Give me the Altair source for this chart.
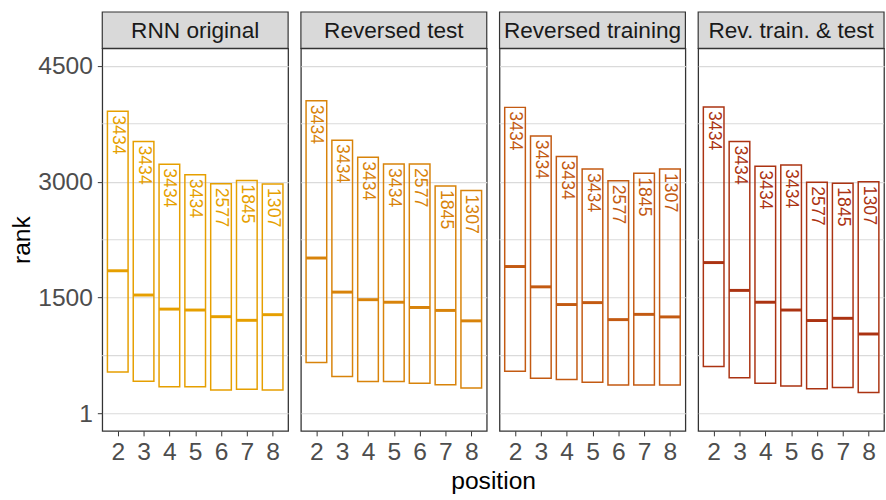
import altair as alt
import pandas as pd

# Panels (training / test conditions) and prefix positions
panels = ["RNN original", "Reversed test", "Reversed training", "Rev. train. & test"]
positions = [2, 3, 4, 5, 6, 7, 8]
counts = [3434, 3434, 3434, 3434, 2577, 1845, 1307]
colors = ["#E69F00", "#D8830A", "#C35A12", "#AB3312"]

# Rank ranges (lower / upper) and medians per panel, positions 2..8
upper = {
    "RNN original":       [3911, 3521, 3225, 3089, 2974, 3017, 2970],
    "Reversed test":      [4047, 3538, 3317, 3228, 3228, 2945, 2886],
    "Reversed training":  [3962, 3593, 3326, 3165, 3012, 3110, 3165],
    "Rev. train. & test": [3966, 3521, 3199, 3216, 2992, 2979, 3000],
}
lower = {
    "RNN original":       [539, 419, 348, 348, 305, 314, 305],
    "Reversed test":      [661, 479, 416, 416, 394, 373, 331],
    "Reversed training":  [547, 458, 441, 407, 369, 369, 369],
    "Rev. train. & test": [610, 463, 394, 356, 323, 339, 272],
}
median = {
    "RNN original":       [1848, 1534, 1352, 1340, 1254, 1207, 1280],
    "Reversed test":      [2013, 1572, 1474, 1441, 1373, 1335, 1200],
    "Reversed training":  [1903, 1640, 1411, 1436, 1216, 1284, 1251],
    "Rev. train. & test": [1954, 1594, 1441, 1340, 1204, 1233, 1030],
}

major_ticks = [1, 1500, 3000, 4500]
minor_ticks = [750, 2250, 3750]

FONT = "Liberation Sans"
TICK_FS = 25
TITLE_FS = 25
STRIP_FS = 23
PANEL_W = 189
PANEL_H = 389
STRIP_H = 37
GRID = "#DADADA"
HALF = 0.4

x_scale = alt.Scale(domain=[1.4, 8.6], nice=False, zero=False)
y_scale = alt.Scale(domain=[-224, 4725], nice=False, zero=False)

x_axis = alt.Axis(values=positions, format="d", title=None, grid=False,
                  domain=False, ticks=True, tickSize=5, tickColor="#333333",
                  labelFontSize=TICK_FS, labelColor="#4D4D4D", labelFont=FONT,
                  labelPadding=4, labelOverlap=False, labelFlush=False)


def panel_chart(i, name):
    color = colors[i]
    df = pd.DataFrame({
        "position": positions,
        "x0": [p - HALF for p in positions],
        "x1": [p + HALF for p in positions],
        "lower": lower[name],
        "upper": upper[name],
        "median": median[name],
        "n": counts,
    })
    if i == 0:
        y_axis = alt.Axis(values=major_ticks, format="d", title="rank", grid=True,
                          gridColor=GRID, gridWidth=1.1, domain=False,
                          tickSize=5, tickColor="#333333", labelFontSize=TICK_FS,
                          labelColor="#4D4D4D", labelFont=FONT, labelPadding=5,
                          labelOverlap=False, labelFlush=False,
                          titleFontSize=TITLE_FS, titleFont=FONT, titleColor="black",
                          titleFontWeight="normal", titlePadding=3)
    else:
        y_axis = alt.Axis(values=major_ticks, title=None, grid=True,
                          gridColor=GRID, gridWidth=1.1, domain=False,
                          ticks=False, labels=False)

    base = alt.Chart(df)

    # light minor grid lines halfway between the labelled ranks
    minor = alt.Chart(pd.DataFrame({"v": minor_ticks})).mark_rule(
        color=GRID, strokeWidth=1.1
    ).encode(y=alt.Y("v:Q", scale=y_scale, axis=y_axis))

    boxes = base.mark_rect(fillOpacity=0, stroke=color, strokeWidth=1.5).encode(
        x=alt.X("x0:Q", scale=x_scale, axis=x_axis),
        x2="x1:Q",
        y=alt.Y("lower:Q", scale=y_scale, axis=y_axis),
        y2="upper:Q",
    )

    med = base.mark_rule(color=color, strokeWidth=3).encode(
        x=alt.X("x0:Q", scale=x_scale, axis=x_axis),
        x2="x1:Q",
        y=alt.Y("median:Q", scale=y_scale, axis=y_axis),
    )

    labels = base.mark_text(angle=90, align="left", baseline="middle", dx=4,
                            fontSize=18, font=FONT, color=color).encode(
        x=alt.X("position:Q", scale=x_scale, axis=x_axis),
        y=alt.Y("upper:Q", scale=y_scale, axis=y_axis),
        text="n:Q",
    )

    # grey facet strip above the panel
    strip_df = pd.DataFrame({"panel": [name]})
    strip = alt.Chart(strip_df).mark_rect(
        fill="#D9D9D9", stroke="#333333", strokeWidth=1.2
    ).encode(x=alt.value(0), x2=alt.value(PANEL_W),
             y=alt.value(-STRIP_H), y2=alt.value(0))
    strip_text = alt.Chart(strip_df).mark_text(
        fontSize=STRIP_FS, font=FONT, color="#1A1A1A", baseline="middle",
        align="center"
    ).encode(x=alt.value(PANEL_W / 2), y=alt.value(-STRIP_H / 2 + 1),
             text="panel:N")

    return alt.layer(minor, boxes, med, labels, strip, strip_text).properties(
        width=PANEL_W, height=PANEL_H
    )


chart = alt.hconcat(
    *[panel_chart(i, p) for i, p in enumerate(panels)], spacing=9
).properties(
    title=alt.TitleParams("position", orient="bottom", anchor="middle",
                          fontSize=TITLE_FS, font=FONT, fontWeight="normal",
                          color="black", dx=47, offset=4),
    padding={"left": 9, "top": 6, "right": 0, "bottom": 0},
    background="white",
).configure_view(stroke="#333333", strokeWidth=1.3)

chart.save("out.html", embed_options={"renderer": "svg", "actions": False})
